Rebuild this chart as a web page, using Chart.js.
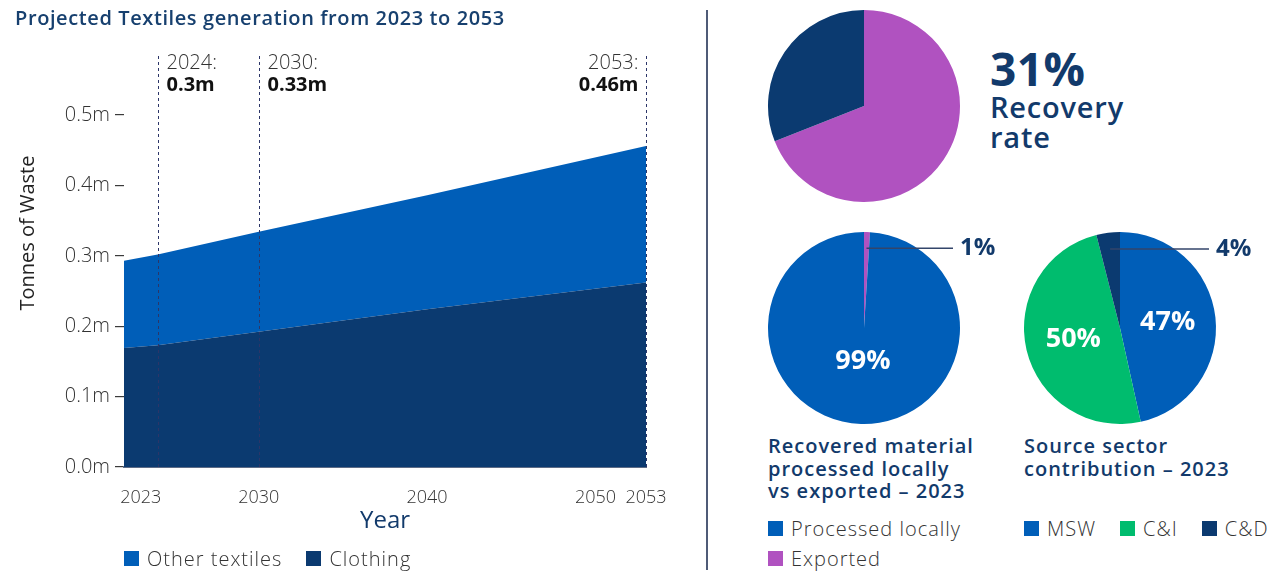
<!DOCTYPE html>
<html>
<head>
<meta charset="utf-8">
<script src="https://cdn.jsdelivr.net/npm/chart.js@4.4.1/dist/chart.umd.min.js"></script>
<style>
  html, body { margin: 0; padding: 0; background: #fff; }
  body { width: 1274px; height: 573px; position: relative; overflow: hidden; font-family: 'Open Sans', sans-serif; }
  canvas, .abs { position: absolute; }
  .title { font-size: 20px; font-weight: 600; color: #17406f; line-height: 24px; letter-spacing: 0.6px; white-space: nowrap; }
  .big { font-size: 46px; font-weight: 700; color: #123a6b; line-height: 46px; letter-spacing: 0.5px; }
  .sub { font-size: 29px; font-weight: 600; color: #123a6b; line-height: 30px; letter-spacing: 0.8px; }
  .ptitle { font-size: 20px; font-weight: 600; color: #123a6b; line-height: 22.5px; letter-spacing: 1px; white-space: nowrap; }
  .legend { display: flex; gap: 24px; font-size: 20px; font-weight: 300; color: #333; letter-spacing: 1px; white-space: nowrap; }
  .legend.col { flex-direction: column; gap: 5px; }
  .legend span { display: flex; align-items: center; height: 25px; line-height: 25px; }
  .legend i { display: inline-block; width: 15px; height: 15px; margin-right: 8px; }
  .divider { left: 706px; top: 10px; width: 2px; height: 560px; background: #4f5b77; }
</style>
</head>
<body>
<canvas id="areaChart" width="700" height="573" style="left:0;top:0"></canvas>
<canvas id="recoveryPie" width="196" height="196" style="left:766px;top:8px"></canvas>
<canvas id="destPie" width="240" height="200" style="left:766px;top:228px"></canvas>
<canvas id="sectorPie" width="252" height="200" style="left:1022px;top:228px"></canvas>

<div class="abs title" style="left:15px;top:6px">Projected Textiles generation from 2023 to 2053</div>
<div class="abs divider"></div>

<div class="abs big" id="recoveryBig" style="left:990px;top:45px"></div>
<div class="abs sub" style="left:990px;top:92px">Recovery<br>rate</div>

<div class="abs ptitle" style="left:768px;top:435px">Recovered material<br>processed locally<br>vs exported – 2023</div>
<div class="abs ptitle" style="left:1024px;top:435px">Source sector<br>contribution – 2023</div>

<div class="abs legend" id="areaLegend" style="left:124px;top:546px"></div>
<div class="abs legend col" id="destLegend" style="left:768px;top:516px"></div>
<div class="abs legend" id="sectorLegend" style="left:1024px;top:516px"></div>

<script>
// ---- area chart data (million tonnes) ----
const years = [2022, 2024, 2030, 2040, 2053];
const clothing = [0.169, 0.173, 0.192, 0.224, 0.262];
const otherTextiles = [0.124, 0.129, 0.142, 0.162, 0.194];
const xTickYears = [2023, 2030, 2040, 2050, 2053];
const yTicks = [0, 0.1, 0.2, 0.3, 0.4, 0.5];
const calloutYears = [2024, 2030, 2053];
const calloutTotals = ['0.3m', '0.33m', '0.46m'];
const areaLabels = ['Other textiles', 'Clothing'];

// ---- pies (percent) ----
const recoveryLabels = ['Not recovered', 'Recovered'];
const recoveryValues = [69, 31];
const destLabels = ['Exported', 'Processed locally'];
const destValues = [1, 99];
const sectorLabels = ['MSW', 'C&I', 'C&D'];
const sectorValues = [47, 50, 4];

const BLUE = '#005eb8';
const NAVY = '#0b3a70';
const PURPLE = '#b052c0';
const GREEN = '#00bc6e';
const TEXT_NAVY = '#123a6b';

document.getElementById('recoveryBig').textContent = recoveryValues[1] + '%';

function buildLegend(id, labels, colors) {
    const el = document.getElementById(id);
    labels.forEach((label, i) => {
        const item = document.createElement('span');
        const box = document.createElement('i');
        box.style.background = colors[i];
        item.appendChild(box);
        item.appendChild(document.createTextNode(label));
        el.appendChild(item);
    });
}
buildLegend('areaLegend', areaLabels, [BLUE, NAVY]);
buildLegend('destLegend', [destLabels[1], destLabels[0]], [BLUE, PURPLE]);
buildLegend('sectorLegend', sectorLabels, [BLUE, GREEN, NAVY]);

// dashed year callouts + rotated y title
const callouts = {
    id: 'callouts',
    afterDatasetsDraw(chart) {
        const {ctx, chartArea, scales: {x}} = chart;
        calloutYears.forEach((yr, i) => {
            const px = Math.round(x.getPixelForValue(yr)) + 0.5;
            ctx.save();
            ctx.strokeStyle = '#2c3568';
            ctx.lineWidth = 1;
            ctx.setLineDash([3, 3]);
            ctx.beginPath();
            ctx.moveTo(px, chartArea.top - 59);
            ctx.lineTo(px, chartArea.bottom);
            ctx.stroke();
            const last = i === calloutYears.length - 1;
            const tx = last ? px - 8 : px + 8;
            ctx.textAlign = last ? 'right' : 'left';
            ctx.textBaseline = 'middle';
            ctx.font = '300 20px "Open Sans"';
            ctx.fillStyle = '#333';
            ctx.fillText(yr + ':', tx, chartArea.top - 52);
            ctx.font = '700 20px "Open Sans"';
            ctx.fillStyle = '#111';
            ctx.fillText(calloutTotals[i], tx, chartArea.top - 30);
            ctx.restore();
        });
        ctx.save();
        ctx.translate(28, 233);
        ctx.rotate(-Math.PI / 2);
        ctx.textAlign = 'center';
        ctx.textBaseline = 'middle';
        ctx.font = '400 20px "Open Sans"';
        ctx.fillStyle = '#222';
        ctx.fillText('Tonnes of Waste', 0, 0);
        ctx.restore();
    }
};

new Chart(document.getElementById('areaChart'), {
    type: 'line',
    data: {
        datasets: [
            {
                label: areaLabels[1],
                data: years.map((yr, i) => ({x: yr, y: clothing[i]})),
                backgroundColor: NAVY,
                fill: 'origin'
            },
            {
                label: areaLabels[0],
                data: years.map((yr, i) => ({x: yr, y: otherTextiles[i]})),
                backgroundColor: BLUE,
                fill: '-1'
            }
        ]
    },
    options: {
        responsive: false,
        animation: false,
        layout: { padding: { top: 115, right: 54, left: 0, bottom: 36 } },
        elements: {
            point: { radius: 0 },
            line: { borderWidth: 0, tension: 0 }
        },
        scales: {
            x: {
                type: 'linear',
                min: years[0],
                max: xTickYears[xTickYears.length - 1],
                afterBuildTicks: scale => { scale.ticks = xTickYears.map(v => ({value: v})); },
                afterFit: scale => { scale.height = 70; },
                grid: { display: false },
                border: { display: true, color: '#5d6b86', width: 2 },
                ticks: {
                    autoSkip: false, maxRotation: 0, padding: 12,
                    color: '#333', font: { family: 'Open Sans', size: 18, weight: 300 },
                    callback: v => String(v)
                },
                title: {
                    display: true, text: 'Year', color: TEXT_NAVY,
                    font: { family: 'Open Sans', size: 24, weight: 400 },
                    padding: { top: 0, bottom: 1 }
                }
            },
            y: {
                stacked: true,
                min: 0,
                max: yTicks[yTicks.length - 1],
                afterBuildTicks: scale => { scale.ticks = yTicks.map(v => ({value: v})); },
                afterFit: scale => { scale.width = 124; },
                grid: { display: true, drawOnChartArea: false, drawTicks: true, tickLength: 9, tickColor: '#3b3b3b', lineWidth: 1.2 },
                border: { display: false },
                ticks: {
                    padding: 5, color: '#333',
                    font: { family: 'Open Sans', size: 20, weight: 300 },
                    callback: v => v.toFixed(1) + 'm'
                }
            }
        },
        plugins: { legend: { display: false }, tooltip: { enabled: false } }
    },
    plugins: [callouts]
});

// percent labels on pies
const sliceLabels = {
    id: 'sliceLabels',
    afterDatasetsDraw(chart, args, opts) {
        if (!opts.show) return;
        const ctx = chart.ctx;
        const values = chart.data.datasets[0].data;
        chart.getDatasetMeta(0).data.forEach((arc, i) => {
            const {x, y, startAngle, endAngle, outerRadius} =
                arc.getProps(['x', 'y', 'startAngle', 'endAngle', 'outerRadius'], true);
            const mid = (startAngle + endAngle) / 2;
            const text = values[i] + '%';
            ctx.save();
            ctx.textBaseline = 'middle';
            if (values[i] < 5) {
                const sx = x + Math.cos(mid) * outerRadius * 0.83;
                const sy = y + Math.sin(mid) * outerRadius * 0.83;
                ctx.strokeStyle = '#33456a';
                ctx.lineWidth = 1.5;
                ctx.beginPath();
                ctx.moveTo(sx, sy);
                ctx.lineTo(x + outerRadius - 7, sy);
                ctx.stroke();
                ctx.fillStyle = TEXT_NAVY;
                ctx.font = '700 24px "Open Sans"';
                ctx.textAlign = 'left';
                ctx.fillText(text, x + outerRadius, sy);
            } else {
                ctx.fillStyle = '#fff';
                ctx.font = '700 27px "Open Sans"';
                ctx.textAlign = 'center';
                ctx.fillText(text, x + Math.cos(mid) * outerRadius * opts.ratio,
                                   y + Math.sin(mid) * outerRadius * opts.ratio);
            }
            ctx.restore();
        });
    }
};

function makePie(id, labels, values, colors, padding, labelOpts) {
    return new Chart(document.getElementById(id), {
        type: 'pie',
        data: {
            labels: labels,
            datasets: [{ data: values, backgroundColor: colors, borderWidth: 0, hoverOffset: 0 }]
        },
        options: {
            responsive: false,
            animation: false,
            layout: { padding: padding },
            plugins: {
                legend: { display: false },
                tooltip: { enabled: false },
                sliceLabels: labelOpts
            }
        },
        plugins: [sliceLabels]
    });
}

makePie('recoveryPie', recoveryLabels, recoveryValues, [PURPLE, NAVY],
    { left: 2, top: 2, right: 2, bottom: 2 }, { show: false });
makePie('destPie', destLabels, destValues, [PURPLE, BLUE],
    { left: 2, top: 4, right: 46, bottom: 4 }, { show: true, ratio: 0.35 });
makePie('sectorPie', sectorLabels, sectorValues, [BLUE, GREEN, NAVY],
    { left: 2, top: 4, right: 58, bottom: 4 }, { show: true, ratio: 0.5 });
</script>
</body>
</html>
